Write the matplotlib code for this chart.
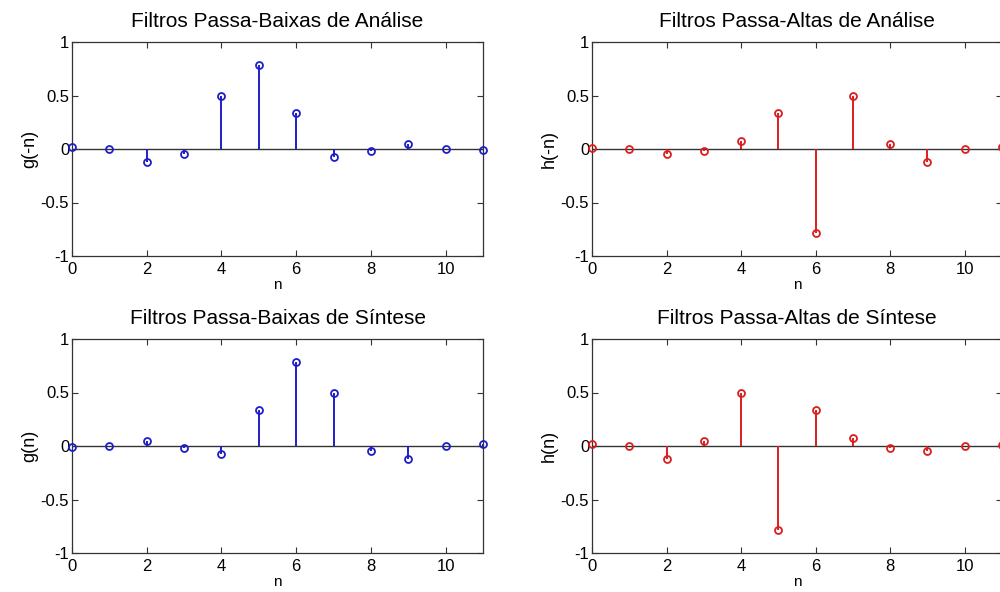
import numpy as np
import matplotlib
matplotlib.use("Agg")
import matplotlib.pyplot as plt

plt.rcParams['font.family'] = ['Liberation Sans', 'DejaVu Sans']

n = np.arange(12)

# Filter coefficients (12 taps each)
g_minus_n = [0.0154, 0.0035, -0.1180, -0.0483, 0.4911, 0.7876,
             0.3379, -0.0726, -0.0211, 0.0447, 0.0018, -0.0078]
h_minus_n = [0.0078, 0.0018, -0.0447, -0.0211, 0.0726, 0.3379,
             -0.7876, 0.4911, 0.0483, -0.1180, -0.0035, 0.0154]
g_n = [-0.0078, 0.0018, 0.0447, -0.0211, -0.0726, 0.3379,
       0.7876, 0.4911, -0.0483, -0.1180, 0.0035, 0.0154]
h_n = [0.0154, -0.0035, -0.1180, 0.0483, 0.4911, -0.7876,
       0.3379, 0.0726, -0.0211, -0.0447, 0.0018, 0.0078]

titles = ["Filtros Passa-Baixas de Análise", "Filtros Passa-Altas de Análise",
          "Filtros Passa-Baixas de Síntese", "Filtros Passa-Altas de Síntese"]
ylabels = ["g(-n)", "h(-n)", "g(n)", "h(n)"]
series = [g_minus_n, h_minus_n, g_n, h_n]
colors = ["#1e1ec8", "#dc1e1e", "#1e1ec8", "#dc1e1e"]

fig = plt.figure(figsize=(10, 5.92), dpi=100)
W, H = 1000, 592
boxes = [(72, 42, 411), (592, 42, 410), (72, 339, 411), (592, 339, 410)]
ah = 214

for (x0, y0, aw), title, yl, vals, c in zip(boxes, titles, ylabels, series, colors):
    ax = fig.add_axes([x0 / W, 1 - (y0 + ah) / H, aw / W, ah / H])
    ax.axhline(0, color="#333333", lw=1.0, zorder=1)
    ax.vlines(n, 0, vals, color=c, lw=1.4, zorder=2)
    ax.plot(n, vals, 'o', ms=5, mfc='none', mec=c, mew=1.3, zorder=3, clip_on=False)
    ax.set_xlim(0, 11)
    ax.set_ylim(-1, 1)
    ax.set_xticks([0, 2, 4, 6, 8, 10])
    ax.set_yticks([-1, -0.5, 0, 0.5, 1])
    ax.set_yticklabels(["-1", "-0.5", "0", "0.5", "1"])
    ax.tick_params(direction='in', top=True, right=True, labelsize=12,
                   length=4, width=0.8, color="#333333")
    ax.tick_params(axis='x', pad=4)
    ax.tick_params(axis='y', pad=2)
    for s in ax.spines.values():
        s.set_color("#333333")
        s.set_linewidth(0.9)
    ax.set_title(title, fontsize=15, pad=11)
    ax.set_ylabel(yl, fontsize=13, labelpad=2)
    ax.set_xlabel("n", fontsize=11, labelpad=1)

fig.savefig("out.png", dpi=100)
